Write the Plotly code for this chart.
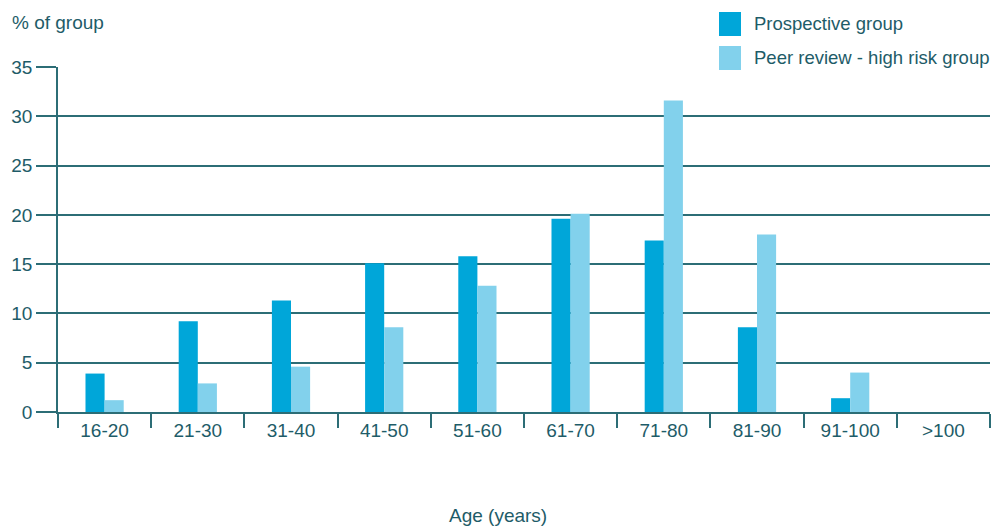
import plotly.graph_objects as go

categories = ["16-20", "21-30", "31-40", "41-50", "51-60", "61-70", "71-80", "81-90", "91-100", ">100"]
prospective = [3.9, 9.2, 11.3, 15.1, 15.8, 19.6, 17.4, 8.6, 1.4, 0]
peer_review = [1.2, 2.9, 4.6, 8.6, 12.8, 20.1, 31.6, 18.0, 4.0, 0]
series_names = ["Prospective group", "Peer review - high risk group"]
y_ticks = [0, 5, 10, 15, 20, 25, 30, 35]

DARK = "#00A6D9"
LIGHT = "#82D1EC"
TEXT = "#1e5c68"
LINE = "#2c6d76"
FONT = "Liberation Sans, Arial, sans-serif"
FS = 19
LFS = 18.5

W, H = 993, 526
L, R, T, B = 58, 3, 67, 114
pw = W - L - R
ph = H - T - B

def px(x):
    return (x - L) / pw

def py(y):
    return (H - B - y) / ph

fig = go.Figure()
fig.add_trace(go.Bar(x=categories, y=prospective, name=series_names[0],
                     marker=dict(color=DARK, line=dict(width=0)), showlegend=False))
fig.add_trace(go.Bar(x=categories, y=peer_review, name=series_names[1],
                     marker=dict(color=LIGHT, line=dict(width=0)), showlegend=False))

shapes = [
    dict(type="rect", xref="paper", yref="paper", x0=px(705), x1=px(W + 5), y0=py(74), y1=py(-5),
         fillcolor="white", line=dict(width=0), layer="above"),
    dict(type="rect", xref="paper", yref="paper", x0=px(719), x1=px(741), y0=py(36), y1=py(12),
         fillcolor=DARK, line=dict(width=0), layer="above"),
    dict(type="rect", xref="paper", yref="paper", x0=px(719), x1=px(741), y0=py(70), y1=py(46),
         fillcolor=LIGHT, line=dict(width=0), layer="above"),
]

annotations = [
    dict(text=series_names[0], xref="paper", yref="paper", x=px(752), y=py(24),
         xanchor="left", yanchor="middle", showarrow=False, font=dict(size=LFS, color=TEXT, family=FONT)),
    dict(text=series_names[1], xref="paper", yref="paper", x=px(752), y=py(58),
         xanchor="left", yanchor="middle", showarrow=False, font=dict(size=LFS, color=TEXT, family=FONT)),
    dict(text="% of group", xref="paper", yref="paper", x=px(10), y=py(22),
         xanchor="left", yanchor="middle", showarrow=False, font=dict(size=FS, color=TEXT, family=FONT)),
    dict(text="Age (years)", xref="paper", yref="paper", x=px(498), y=py(515),
         xanchor="center", yanchor="middle", showarrow=False, font=dict(size=FS, color=TEXT, family=FONT)),
]

fig.update_layout(
    width=W, height=H,
    margin=dict(l=L, r=R, t=T, b=B, pad=0),
    paper_bgcolor="white", plot_bgcolor="white",
    barmode="group", bargap=0.59, bargroupgap=0,
    font=dict(family=FONT, size=FS, color=TEXT),
    shapes=shapes, annotations=annotations,
    showlegend=False,
)
fig.update_xaxes(
    type="category", tickson="boundaries", ticks="outside", ticklen=14, tickwidth=1.5,
    tickcolor=LINE, showline=True, linecolor=LINE, linewidth=1.5, showgrid=False,
    tickfont=dict(size=FS, color=TEXT, family=FONT), range=[-0.5, 9.5],
)
fig.update_yaxes(
    range=[0, 35], tickvals=y_ticks, ticks="outside", ticklen=20, tickwidth=1.5,
    tickcolor=LINE, showgrid=True, gridcolor=LINE, gridwidth=1.5,
    showline=True, linecolor=LINE, linewidth=1.5, zeroline=False,
    tickfont=dict(size=FS, color=TEXT, family=FONT),
)

fig.write_html("out.html", config={"displayModeBar": False})

with open("out.html", "r", encoding="utf-8") as f:
    html = f.read()
html = html.replace("<head>", "<head><style>html,body{margin:0;padding:0;overflow:hidden;}</style>", 1)
with open("out.html", "w", encoding="utf-8") as f:
    f.write(html)
